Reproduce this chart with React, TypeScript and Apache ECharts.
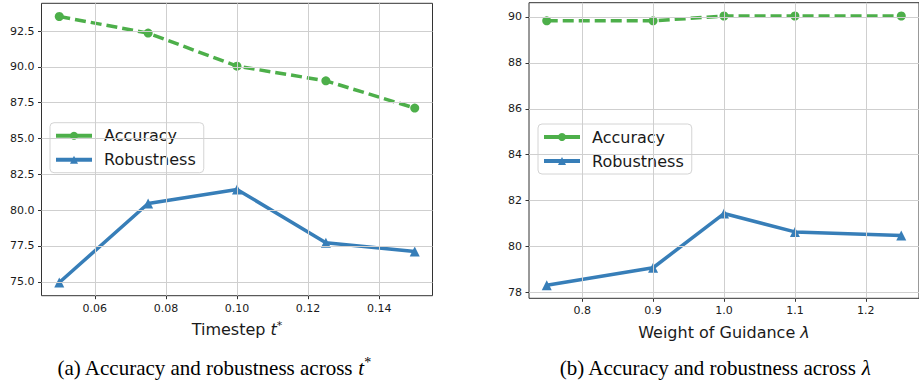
import React, { useEffect, useRef } from "react";
import * as echarts from "echarts";

// ---- data ----
const tValues = [0.05, 0.075, 0.1, 0.125, 0.15];
const accuracyT = [93.52, 92.36, 90.05, 89.03, 87.13];
const robustnessT = [74.95, 80.47, 81.45, 77.72, 77.12];

const lambdaValues = [0.75, 0.9, 1.0, 1.1, 1.25];
const accuracyL = [89.83, 89.83, 90.04, 90.04, 90.04];
const robustnessL = [78.32, 79.08, 81.44, 80.64, 80.48];

const xTicksT = [0.06, 0.08, 0.1, 0.12, 0.14];
const yTicksT = [75, 77.5, 80, 82.5, 85, 87.5, 90, 92.5];
const xTicksL = [0.8, 0.9, 1.0, 1.1, 1.2];
const yTicksL = [78, 80, 82, 84, 86, 88, 90];

const seriesNames = ["Accuracy", "Robustness"];

const GREEN = "#4daf4a";
const BLUE = "#377eb8";
const TEXT = "#1a1a1a";
const GRIDLINE = "#cfcfcf";

function pairs(xs: number[], ys: number[]) {
  return xs.map((x, i) => [x, ys[i]]);
}

function gridLines(xi: number, xt: number[], yt: number[]) {
  return {
    type: "line",
    xAxisIndex: xi,
    yAxisIndex: xi,
    data: [],
    silent: true,
    z: 1,
    markLine: {
      silent: true,
      symbol: ["none", "none"],
      label: { show: false },
      emphasis: { disabled: true },
      lineStyle: { color: GRIDLINE, width: 1, type: "solid" },
      data: [
        ...xt.map((v) => ({ xAxis: v })),
        ...yt.map((v) => ({ yAxis: v })),
      ],
    },
  };
}

function xAxis(gi: number, min: number, max: number, ticks: number[], digits: number, name: string, rich: any) {
  return {
    type: "value",
    gridIndex: gi,
    min,
    max,
    splitLine: { show: false },
    axisLine: { show: false },
    axisTick: {
      show: true,
      customValues: ticks,
      length: 3.5,
      lineStyle: { color: "#333", width: 1 },
    },
    axisLabel: {
      customValues: ticks,
      margin: 7,
      fontSize: 11,
      fontFamily: "DejaVu Sans",
      color: TEXT,
      formatter: (v: number) => v.toFixed(digits),
    },
    name,
    nameLocation: "middle",
    nameGap: 24,
    nameTextStyle: { rich },
  };
}

function yAxis(gi: number, min: number, max: number, ticks: number[], digits: number) {
  return {
    type: "value",
    gridIndex: gi,
    min,
    max,
    splitLine: { show: false },
    axisLine: { show: false },
    axisTick: {
      show: true,
      customValues: ticks,
      length: 3.5,
      lineStyle: { color: "#333", width: 1 },
    },
    axisLabel: {
      customValues: ticks,
      margin: 7,
      fontSize: 11,
      fontFamily: "DejaVu Sans",
      color: TEXT,
      formatter: (v: number) => v.toFixed(digits),
    },
  };
}

function accSeries(i: number, xs: number[], ys: number[]) {
  return {
    name: seriesNames[0],
    type: "line",
    xAxisIndex: i,
    yAxisIndex: i,
    data: pairs(xs, ys),
    z: 3,
    symbol: "circle",
    symbolSize: 9,
    itemStyle: { color: GREEN },
    lineStyle: { color: GREEN, width: 3.5, type: [11, 5] },
  };
}

function robSeries(i: number, xs: number[], ys: number[]) {
  return {
    name: seriesNames[1],
    type: "line",
    xAxisIndex: i,
    yAxisIndex: i,
    data: pairs(xs, ys),
    z: 3,
    symbol: "triangle",
    symbolSize: 10,
    itemStyle: { color: BLUE },
    lineStyle: { color: BLUE, width: 3.5, type: "solid" },
  };
}

function legend(left: number, top: number) {
  return {
    data: [
      { name: seriesNames[0], lineStyle: { type: "solid", width: 4 } },
      { name: seriesNames[1], lineStyle: { type: "solid", width: 4 } },
    ],
    left,
    top,
    orient: "vertical",
    itemWidth: 36,
    itemHeight: 10,
    itemGap: 8,
    padding: [5, 8, 5, 4],
    borderColor: "#d4d4d4",
    borderWidth: 1,
    borderRadius: 4,
    backgroundColor: "rgba(255,255,255,0.85)",
    selectedMode: false,
    textStyle: {
      fontSize: 16,
      fontFamily: "DejaVu Sans",
      color: TEXT,
      padding: [0, 0, 0, 7],
    },
  };
}

const nameRichT = {
  a: { fontSize: 16, fontFamily: "DejaVu Sans", color: TEXT, lineHeight: 20 },
  t: { fontSize: 16, fontFamily: "DejaVu Sans", fontStyle: "italic", color: TEXT, lineHeight: 20 },
  s: { fontSize: 11, fontFamily: "DejaVu Sans", color: TEXT, verticalAlign: "top", lineHeight: 12 },
};
const nameRichL = {
  a: { fontSize: 16, fontFamily: "DejaVu Sans", color: TEXT, lineHeight: 20 },
  l: { fontSize: 16, fontFamily: "DejaVu Sans", fontStyle: "italic", color: TEXT, lineHeight: 20 },
};

const capRich = {
  a: { fontSize: 21, fontFamily: "Liberation Serif", color: "#000", lineHeight: 26 },
  t: { fontSize: 21, fontFamily: "Liberation Serif", fontStyle: "italic", color: "#000", lineHeight: 26 },
  s: { fontSize: 14, fontFamily: "Liberation Serif", color: "#000", verticalAlign: "top", lineHeight: 15 },
};

export default function App() {
  const ref = useRef<HTMLDivElement>(null);
  useEffect(() => {
    if (!ref.current) return;
    const chart = echarts.init(ref.current, null, { renderer: "svg" });
    chart.setOption({
      animation: false,
      backgroundColor: "#fff",
      grid: [
        { left: 41.5, top: 3.3, width: 391, height: 292.4, show: true, borderColor: "#333", borderWidth: 1, backgroundColor: "transparent" },
        { left: 529, top: 2.7, width: 397, height: 295.6, show: true, borderColor: "#333", borderWidth: 1, backgroundColor: "transparent" },
      ],
      xAxis: [
        xAxis(0, 0.045, 0.155, xTicksT, 2, "{a|Timestep }{t|t}{s|*}", nameRichT),
        xAxis(1, 0.725, 1.275, xTicksL, 1, "{a|Weight of Guidance }{l|λ}", nameRichL),
      ],
      yAxis: [
        yAxis(0, 74.03, 94.44, yTicksT, 1),
        yAxis(1, 77.75, 90.62, yTicksL, 0),
      ],
      legend: [legend(50, 122.7), legend(538, 124)],
      series: [
        gridLines(0, xTicksT, yTicksT),
        gridLines(1, xTicksL, yTicksL),
        accSeries(0, tValues, accuracyT),
        robSeries(0, tValues, robustnessT),
        accSeries(1, lambdaValues, accuracyL),
        robSeries(1, lambdaValues, robustnessL),
      ],
      graphic: [
        {
          type: "text",
          x: 214,
          y: 368,
          style: {
            text: "{a|(a) Accuracy and robustness across }{t|t}{s|*}",
            rich: capRich,
            align: "center",
            verticalAlign: "middle",
          },
        },
        {
          type: "text",
          x: 715,
          y: 368,
          style: {
            text: "{a|(b) Accuracy and robustness across }{t|λ}",
            rich: capRich,
            align: "center",
            verticalAlign: "middle",
          },
        },
      ],
    });
    return () => chart.dispose();
  }, []);
  return (
    <div
      ref={ref}
      style={{ position: "absolute", left: 0, top: 0, width: 919, height: 385 }}
    />
  );
}
